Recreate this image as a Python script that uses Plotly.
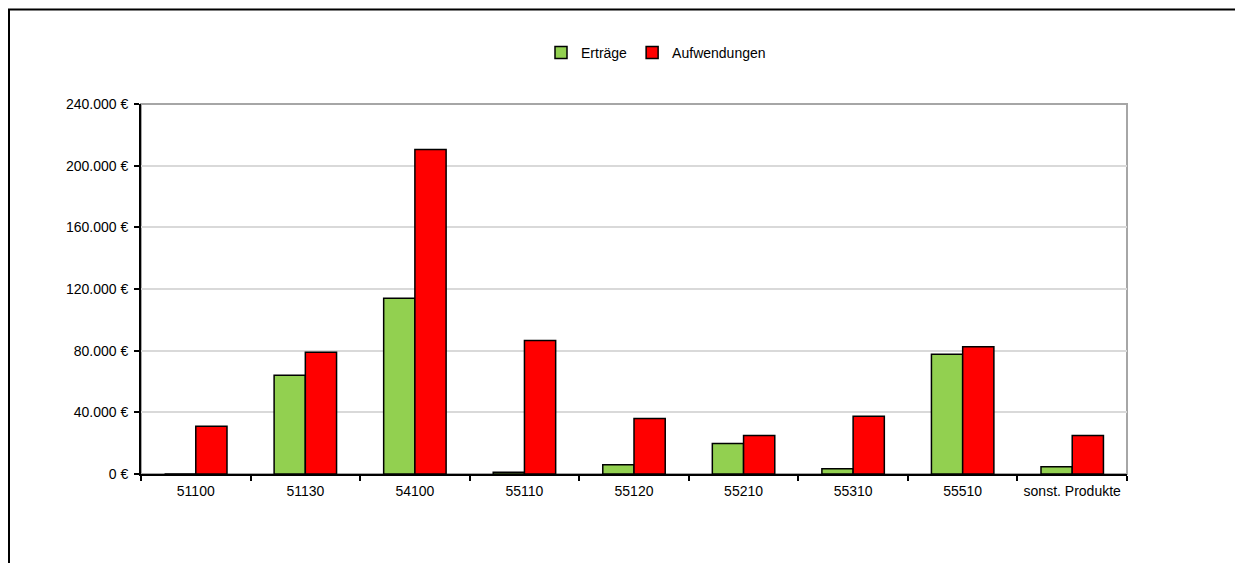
import plotly.graph_objects as go

categories = ["51100", "51130", "54100", "55110", "55120", "55210", "55310", "55510", "sonst. Produkte"]
ertraege = [0, 64000, 114000, 1200, 6000, 19800, 3400, 77600, 4700]
aufwendungen = [31000, 79000, 210500, 86600, 36000, 25000, 37500, 82500, 25000]
y_ticks = [0, 40000, 80000, 120000, 160000, 200000, 240000]
y_ticktext = ["0 €", "40.000 €", "80.000 €", "120.000 €", "160.000 €", "200.000 €", "240.000 €"]

# the page body adds an 8 px margin, so figure coords = screen coords - 8
W, H = 1235, 555
L, R, T, B = 133, 1119, 96, 466
font_family = "Liberation Sans, Arial, sans-serif"

fig = go.Figure()
fig.add_trace(go.Bar(
    x=categories, y=ertraege, name="Erträge",
    marker=dict(color="#92D050", line=dict(color="#000000", width=1.5)),
))
fig.add_trace(go.Bar(
    x=categories, y=aufwendungen, name="Aufwendungen",
    marker=dict(color="#FF0000", line=dict(color="#000000", width=1.5)),
))

pw = R - L
ph = B - T

def px_x(x):
    return (x - L) / pw

def px_y(y):
    return (B - y) / ph

shapes = [
    # plot area border (gray top/right)
    dict(type="rect", xref="paper", yref="paper", x0=0, x1=1, y0=0, y1=1,
         line=dict(color="#A6A6A6", width=2), layer="below"),
    # outer chart frame
    dict(type="rect", xref="paper", yref="paper",
         x0=px_x(1), x1=px_x(1250), y0=px_y(570), y1=px_y(1.5),
         line=dict(color="#000000", width=2), layer="above"),
]

fig.update_layout(
    width=W, height=H,
    margin=dict(l=L, r=W - R, t=T, b=H - B, pad=0),
    paper_bgcolor="white", plot_bgcolor="white",
    font=dict(family=font_family, size=14, color="#000000"),
    barmode="group", bargap=0.43, bargroupgap=0,
    showlegend=True,
    legend=dict(orientation="h", x=px_x(533), xanchor="left",
                y=px_y(45), yanchor="middle",
                font=dict(size=14), itemwidth=30,
                bgcolor="rgba(0,0,0,0)", traceorder="normal"),
    shapes=shapes,
)
fig.update_xaxes(
    type="category", showline=True, linecolor="#000000", linewidth=2,
    ticks="outside", ticklen=5, tickcolor="#000000", tickwidth=1.5,
    tickson="boundaries", showgrid=False, zeroline=False,
    tickfont=dict(size=14), ticklabelstandoff=3, fixedrange=True,
)
fig.update_yaxes(
    range=[0, 240000], tickvals=y_ticks, ticktext=y_ticktext,
    showline=True, linecolor="#000000", linewidth=2,
    ticks="outside", ticklen=5, tickcolor="#000000", tickwidth=1.5,
    showgrid=True, gridcolor="#D9D9D9", gridwidth=2, zeroline=False,
    tickfont=dict(size=14), ticklabelstandoff=3, fixedrange=True,
)

fig.write_html("out.html")
